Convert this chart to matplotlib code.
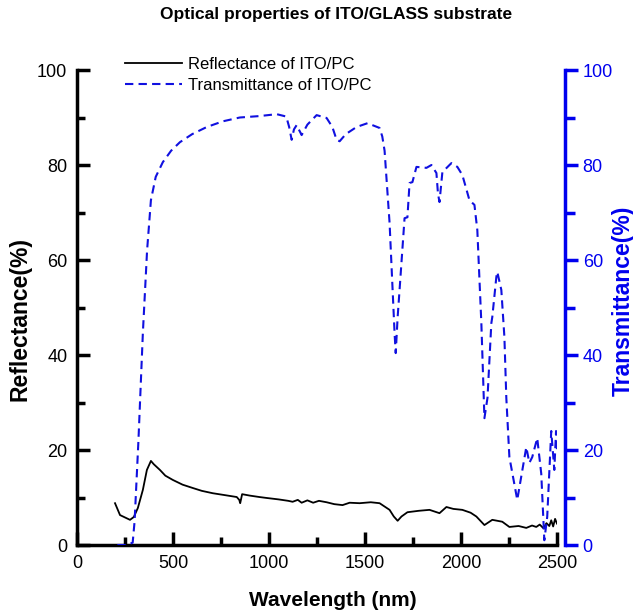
import numpy as np
import matplotlib.pyplot as plt
from matplotlib.ticker import MultipleLocator

plt.rcParams['font.family'] = ['Liberation Sans', 'DejaVu Sans']

# reflectance of ITO/PC (left axis)
wl_refl = [198, 224, 250, 276, 296, 317, 343, 364, 385, 400, 432, 460, 499, 550,
           603, 650, 707, 770, 832, 845, 850, 860, 900, 950, 988, 1050, 1100, 1123,
           1150, 1170, 1200, 1230, 1260, 1300, 1340, 1383, 1420, 1472, 1530, 1576,
           1628, 1650, 1670, 1690, 1721, 1780, 1836, 1888, 1924, 1960, 2007, 2050,
           2080, 2122, 2163, 2215, 2252, 2300, 2340, 2370, 2392, 2410, 2430, 2445,
           2460, 2470, 2480, 2490, 2500]
refl = [8.8, 6.3, 5.8, 5.3, 5.9, 7.8, 11.6, 15.8, 17.7, 17.0, 15.8, 14.6, 13.7, 12.7,
        12.0, 11.4, 10.9, 10.5, 10.1, 9.5, 8.8, 10.7, 10.4, 10.1, 9.9, 9.6, 9.3, 9.1,
        9.5, 8.9, 9.4, 8.9, 9.3, 9.0, 8.6, 8.4, 8.9, 8.8, 9.0, 8.8,
        7.4, 6.0, 5.1, 6.0, 6.9, 7.2, 7.4, 6.7, 8.0, 7.6, 7.4, 6.8,
        6.0, 4.2, 5.3, 4.9, 3.8, 4.0, 3.6, 4.1, 3.8, 4.3, 3.5, 4.6,
        4.0, 5.2, 3.9, 5.5, 4.5]

# transmittance of ITO/PC (right axis)
wl_trans = [210, 260, 290, 300, 320, 343, 365, 385, 410, 447, 490, 536, 600, 676,
            760, 848, 950, 1040, 1090, 1105, 1118, 1130, 1144, 1170, 1200, 1248,
            1300, 1330, 1352, 1368, 1400, 1456, 1513, 1576, 1590, 1602, 1628, 1654,
            1660, 1670, 1680, 1706, 1721, 1732, 1747, 1768, 1820, 1846, 1872, 1880,
            1888, 1903, 1950, 1981, 2007, 2044, 2070, 2085, 2106, 2122, 2138, 2158,
            2163, 2184, 2189, 2210, 2226, 2236, 2252, 2293, 2340, 2356, 2371, 2397,
            2418, 2434, 2449, 2470, 2486, 2495, 2500]
trans = [0, 0, 0.5, 5, 22, 44.6, 62, 72.6, 77.5, 80.6, 83, 84.8, 86.5, 88,
         89.2, 90, 90.3, 90.7, 90.2, 88, 85.3, 87.5, 88.4, 86.3, 88.5, 90.5,
         89.9, 88, 85.3, 85, 86.5, 88, 88.8, 87.8, 86, 83, 67.8, 44.6,
         40.4, 48, 53.7, 68.8, 69, 76.2, 76.4, 79.6, 79.4, 80, 78.3, 74,
         72.2, 78.5, 80.4, 79.6, 77.9, 72.6, 71.6, 66.3, 46.7, 26.7, 31, 46.7,
         48, 56.4, 57.5, 53.7, 43.8, 31, 18.5, 9.5, 20.6, 17.3, 18.5, 22.5,
         15, 1, 5.9, 24, 15.8, 24, 20]

fig = plt.figure(figsize=(6.33, 6.13), dpi=100)
ax = fig.add_axes([77 / 633, 1 - 545 / 613, 480 / 633, 475 / 613])
ax2 = ax.twinx()

l1, = ax.plot(wl_refl, refl, color='black', lw=1.3, label='Reflectance of ITO/PC')
l2, = ax2.plot(wl_trans, trans, color='#1010e0', lw=1.5, ls=(0, (4, 2.5)),
               label='Transmittance of ITO/PC')

ax.set_xlim(0, 2500)
ax.set_ylim(0, 100)
ax2.set_ylim(0, 100)

for s in ['top', 'right']:
    ax.spines[s].set_visible(False)
for s in ['top', 'left', 'bottom']:
    ax2.spines[s].set_visible(False)
ax.spines['left'].set_linewidth(2.5)
ax.spines['bottom'].set_linewidth(2.5)
ax2.spines['right'].set_position(('outward', 6))
ax2.spines['right'].set_linewidth(2.5)
ax2.spines['right'].set_color('#0000ee')

ax.xaxis.set_major_locator(MultipleLocator(500))
ax.xaxis.set_minor_locator(MultipleLocator(250))
ax.yaxis.set_major_locator(MultipleLocator(20))
ax.yaxis.set_minor_locator(MultipleLocator(10))
ax2.yaxis.set_major_locator(MultipleLocator(20))
ax2.yaxis.set_minor_locator(MultipleLocator(10))

ax.tick_params(which='major', direction='in', length=9.5, width=2.5, labelsize=13, pad=7)
ax.tick_params(which='minor', direction='in', length=5.5, width=2.5)
ax2.tick_params(which='major', direction='out', length=9.5, width=2.5, labelsize=13,
                pad=3, colors='#0000ee')
ax2.tick_params(which='minor', direction='out', length=7, width=2.5, colors='#0000ee')

# axis titles placed as figure text to match the reference layout
fig.text(333 / 633, 1 - 601 / 613, 'Wavelength (nm)', ha='center', va='center',
         fontsize=15, fontweight='bold')
fig.text(20 / 633, 1 - 319 / 613, 'Reflectance(%)', ha='center', va='center',
         rotation=90, fontsize=16.5, fontweight='bold')
fig.text(623 / 633, 1 - 301 / 613, 'Transmittance(%)', ha='center', va='center',
         rotation=90, fontsize=16.5, fontweight='bold', color='#0000ee')

ax.legend(handles=[l1, l2], loc='upper left', bbox_to_anchor=(0.1, 1.027),
          frameon=False, fontsize=12, handlelength=3.4, handletextpad=0.36,
          labelspacing=0.33, borderpad=0, borderaxespad=0)

fig.text(336 / 633, 1 - 15 / 613, 'Optical properties of ITO/GLASS substrate',
         ha='center', va='center', fontsize=12.5, fontweight='bold')

fig.savefig('out.png', dpi=100)
